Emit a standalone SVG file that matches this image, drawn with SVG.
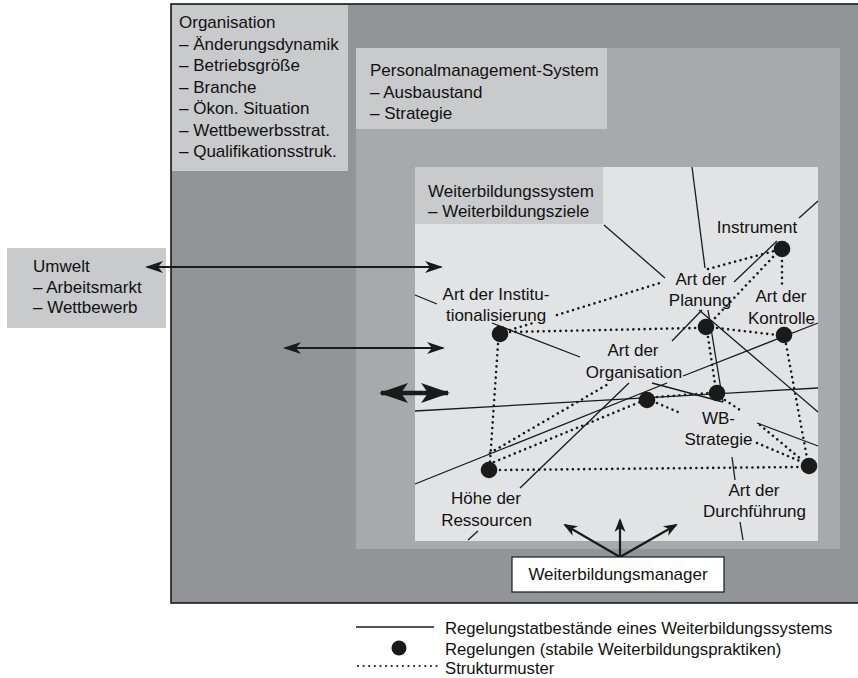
<svg xmlns="http://www.w3.org/2000/svg" width="858" height="678" viewBox="0 0 858 678">
<style>
text{font-family:"Liberation Sans",Arial,sans-serif;font-size:17px;fill:#111111}
.c{text-anchor:middle}
.sl{stroke:#1a1a1a;stroke-width:1.3;fill:none}
.dl{stroke:#1a1a1a;stroke-width:2.6;stroke-linecap:round;stroke-dasharray:0.01 5.6;fill:none}
.dot{fill:#1a1a1a}
.lbl{fill:#c9cacc}
.ar{stroke:#1a1a1a;stroke-width:2.2;fill:none}
.lg{font-size:16.7px}
</style>
<defs>
<marker id="ah" viewBox="-20 -8 24 16" refX="0" refY="0" markerWidth="24" markerHeight="16" markerUnits="userSpaceOnUse" orient="auto-start-reverse"><path d="M2,0 L-16,-6 L-11,0 L-16,6 Z" fill="#1a1a1a"/></marker>
<marker id="ahb" viewBox="-32 -12 36 24" refX="0" refY="0" markerWidth="36" markerHeight="24" markerUnits="userSpaceOnUse" orient="auto-start-reverse"><path d="M2,0 L-27,-10 L-20,0 L-27,10 Z" fill="#1a1a1a"/></marker>
<marker id="ahs" viewBox="-16 -8 20 16" refX="0" refY="0" markerWidth="20" markerHeight="16" markerUnits="userSpaceOnUse" orient="auto-start-reverse"><path d="M2,0 L-12,-5.5 L-8,0 L-12,5.5 Z" fill="#1a1a1a"/></marker>
</defs>

<g id="organisation-frame">
<rect x="171" y="4" width="700" height="599" fill="#939498" stroke="#1a1a1a" stroke-width="1.6"/>
</g>
<g id="personalmanagement-frame">
<rect x="356" y="48" width="484" height="501" fill="#a8a9ac"/>
</g>
<g id="personalmanagement-label">
<rect x="356" y="48" width="251" height="81" class="lbl"/>
<text x="370" y="76">Personalmanagement-System</text>
<text x="370" y="98">– Ausbaustand</text>
<text x="370" y="119">– Strategie</text>
</g>
<g id="organisation-label">
<rect x="172" y="5" width="176" height="166" class="lbl"/>
<text x="179" y="28">Organisation</text>
<text x="179" y="49.5">– Änderungsdynamik</text>
<text x="179" y="71">– Betriebsgröße</text>
<text x="179" y="92.5">– Branche</text>
<text x="179" y="114">– Ökon. Situation</text>
<text x="179" y="135.5">– Wettbewerbsstrat.</text>
<text x="179" y="157">– Qualifikationsstruk.</text>
</g>
<g id="weiterbildungssystem">
<rect x="415" y="167" width="403" height="374" fill="#e2e3e4"/>
<rect x="415" y="167" width="188" height="57" class="lbl"/>
<text x="428" y="196.5">Weiterbildungssystem</text>
<text x="428" y="217">– Weiterbildungsziele</text>
</g>
<g id="umwelt">
<rect x="7" y="248" width="159" height="80" class="lbl"/>
<text x="33" y="272">Umwelt</text>
<text x="33" y="293">– Arbeitsmarkt</text>
<text x="33" y="313">– Wettbewerb</text>
</g>

<g id="connectors">
<g id="regelungstatbestaende">
<line class="sl" x1="692" y1="167" x2="705" y2="268"/>
<line class="sl" x1="604" y1="225" x2="665" y2="278"/>
<line class="sl" x1="818" y1="201" x2="799" y2="218"/>
<line class="sl" x1="777" y1="241" x2="734" y2="282"/>
<line class="sl" x1="702" y1="310" x2="672" y2="341"/>
<line class="sl" x1="699" y1="310" x2="818" y2="412"/>
<line class="sl" x1="708" y1="310" x2="723" y2="402"/>
<line class="sl" x1="652" y1="383" x2="723" y2="402"/>
<line class="sl" x1="683" y1="376" x2="818" y2="323"/>
<line class="sl" x1="415" y1="411" x2="818" y2="388"/>
<line class="sl" x1="415" y1="484" x2="667" y2="383"/>
<line class="sl" x1="520" y1="488" x2="629" y2="383"/>
<line class="sl" x1="468" y1="540" x2="478" y2="531"/>
<line class="sl" x1="492" y1="323" x2="580" y2="357"/>
<line class="sl" x1="415" y1="295" x2="437" y2="304"/>
<line class="sl" x1="757" y1="423" x2="818" y2="446"/>
<line class="sl" x1="732" y1="457" x2="735" y2="480"/>
<line class="sl" x1="740" y1="522" x2="743" y2="540"/>
</g>
<g id="strukturmuster">
<line class="dl" x1="708" y1="269" x2="774" y2="251"/>
<line class="dl" x1="773" y1="257" x2="715" y2="318"/>
<line class="dl" x1="782" y1="261" x2="782" y2="288"/>
<line class="dl" x1="717" y1="328" x2="777" y2="335"/>
<line class="dl" x1="510" y1="332" x2="697" y2="328"/>
<line class="dl" x1="557" y1="315" x2="663" y2="282"/>
<line class="dl" x1="510" y1="330" x2="533" y2="323"/>
<line class="dl" x1="498" y1="344" x2="490" y2="462"/>
<line class="dl" x1="500" y1="470" x2="800" y2="467"/>
<line class="dl" x1="490" y1="453" x2="610" y2="383"/>
<line class="dl" x1="494" y1="462" x2="640" y2="402"/>
<line class="dl" x1="657" y1="397" x2="708" y2="393"/>
<line class="dl" x1="657" y1="403" x2="678" y2="412"/>
<line class="dl" x1="708" y1="337" x2="715" y2="384"/>
<line class="dl" x1="725" y1="400" x2="740" y2="410"/>
<line class="dl" x1="757" y1="443" x2="802" y2="462"/>
<line class="dl" x1="760" y1="425" x2="802" y2="460"/>
<line class="dl" x1="786" y1="344" x2="807" y2="458"/>
</g>
<g id="arrows">
<line class="ar" x1="147" y1="267" x2="441" y2="267" marker-start="url(#ah)" marker-end="url(#ah)"/>
<line class="ar" x1="285" y1="348" x2="443" y2="348" marker-start="url(#ah)" marker-end="url(#ah)"/>
<line x1="381" y1="393" x2="448" y2="393" stroke="#1a1a1a" stroke-width="4.5" marker-start="url(#ahb)" marker-end="url(#ahb)"/>
<line class="ar" x1="620" y1="557" x2="565" y2="525" marker-end="url(#ahs)"/>
<line class="ar" x1="620" y1="557" x2="620" y2="520" marker-end="url(#ahs)"/>
<line class="ar" x1="620" y1="557" x2="676" y2="525" marker-end="url(#ahs)"/>
</g>
</g>

<g id="n-instrument"><circle class="dot" cx="782" cy="249" r="8.3"/><text class="c" x="757" y="233">Instrument</text></g>
<g id="n-planung"><circle class="dot" cx="706" cy="327" r="8.3"/><text class="c" x="701" y="285">Art der</text><text class="c" x="700" y="306">Planung</text></g>
<g id="n-kontrolle"><circle class="dot" cx="784" cy="335" r="8.3"/><text class="c" x="781" y="302">Art der</text><text class="c" x="781.5" y="324">Kontrolle</text></g>
<g id="n-institutionalisierung"><circle class="dot" cx="500" cy="334" r="8.3"/><text class="c" x="496" y="300">Art der Institu-</text><text class="c" x="496" y="321">tionalisierung</text></g>
<g id="n-organisation"><circle class="dot" cx="647" cy="400" r="8.3"/><text class="c" x="633" y="356">Art der</text><text class="c" x="634" y="378">Organisation</text></g>
<g id="n-wbstrategie"><circle class="dot" cx="717" cy="393" r="8.3"/><text class="c" x="718.5" y="424">WB-</text><text class="c" x="718.5" y="445">Strategie</text></g>
<g id="n-durchfuehrung"><circle class="dot" cx="809" cy="466" r="8.3"/><text class="c" x="754" y="496">Art der</text><text class="c" x="754.5" y="517">Durchführung</text></g>
<g id="n-ressourcen"><circle class="dot" cx="489" cy="470" r="8.3"/><text class="c" x="486" y="504">Höhe der</text><text class="c" x="486.5" y="526">Ressourcen</text></g>

<g id="weiterbildungsmanager">
<rect x="512" y="557" width="212" height="35" fill="#ffffff" stroke="#1a1a1a" stroke-width="1.2"/>
<text class="c" x="618" y="580">Weiterbildungsmanager</text>
</g>

<g id="legend">
<line class="sl" x1="356" y1="627" x2="434" y2="627"/>
<text class="lg" x="445" y="634">Regelungstatbestände eines Weiterbildungssystems</text>
<circle class="dot" cx="399" cy="648" r="7.5"/>
<text class="lg" x="445" y="655">Regelungen (stabile Weiterbildungspraktiken)</text>
<line class="dl" x1="358" y1="666" x2="437" y2="666" style="stroke-width:2.2"/>
<text class="lg" x="445" y="674">Strukturmuster</text>
</g>
</svg>
